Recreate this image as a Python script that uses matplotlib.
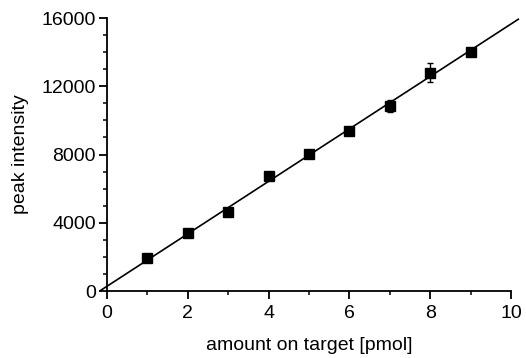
import numpy as np
import matplotlib.pyplot as plt

# data
amount = [1, 2, 3, 4, 5, 6, 7, 8, 9]
intensity = [1950, 3400, 4620, 6760, 8030, 9400, 10840, 12800, 14030]
intensity_err = [0, 0, 0, 0, 0, 0, 370, 560, 0]

# fitted line (slope, intercept) and its drawn range
fit_slope = 1537
fit_intercept = 280
fit_range = [-0.17, 10.18]

x_ticks = [0, 2, 4, 6, 8, 10]
y_ticks = [0, 4000, 8000, 12000, 16000]

plt.rcParams['font.family'] = ['Liberation Sans', 'DejaVu Sans']

fig = plt.figure(figsize=(5.26, 3.58), dpi=100)
ax = fig.add_axes([0.2034, 0.187, 0.7681, 0.7627])

fx = np.array(fit_range)
ax.plot(fx, fit_slope * fx + fit_intercept, color='black', linewidth=1.2,
        clip_on=False, zorder=2)
ax.errorbar(amount, intensity, yerr=intensity_err, fmt='s', color='black',
            markersize=7, elinewidth=1, capsize=2.5, capthick=1,
            clip_on=False, zorder=3)

ax.set_xlim(0, 10)
ax.set_ylim(0, 16000)
ax.set_xticks(x_ticks)
ax.set_yticks(y_ticks)
ax.set_xticks(np.arange(1, 10, 2), minor=True)
ax.set_yticks(np.arange(1000, 16000, 1000), minor=True)
ax.set_yticklabels([str(v) for v in y_ticks])

for s in ['top', 'right']:
    ax.spines[s].set_visible(False)
for s in ['left', 'bottom']:
    ax.spines[s].set_linewidth(1.3)

ax.tick_params(which='major', direction='out', length=6, width=1.3,
               labelsize=14, pad=2)
ax.tick_params(axis='x', which='major', pad=4)
ax.tick_params(which='minor', direction='out', length=3, width=1.1)

ax.set_xlabel('amount on target [pmol]', fontsize=14, labelpad=11)
ax.set_ylabel('peak intensity', fontsize=14, labelpad=9)

fig.savefig('out.png', dpi=100)
